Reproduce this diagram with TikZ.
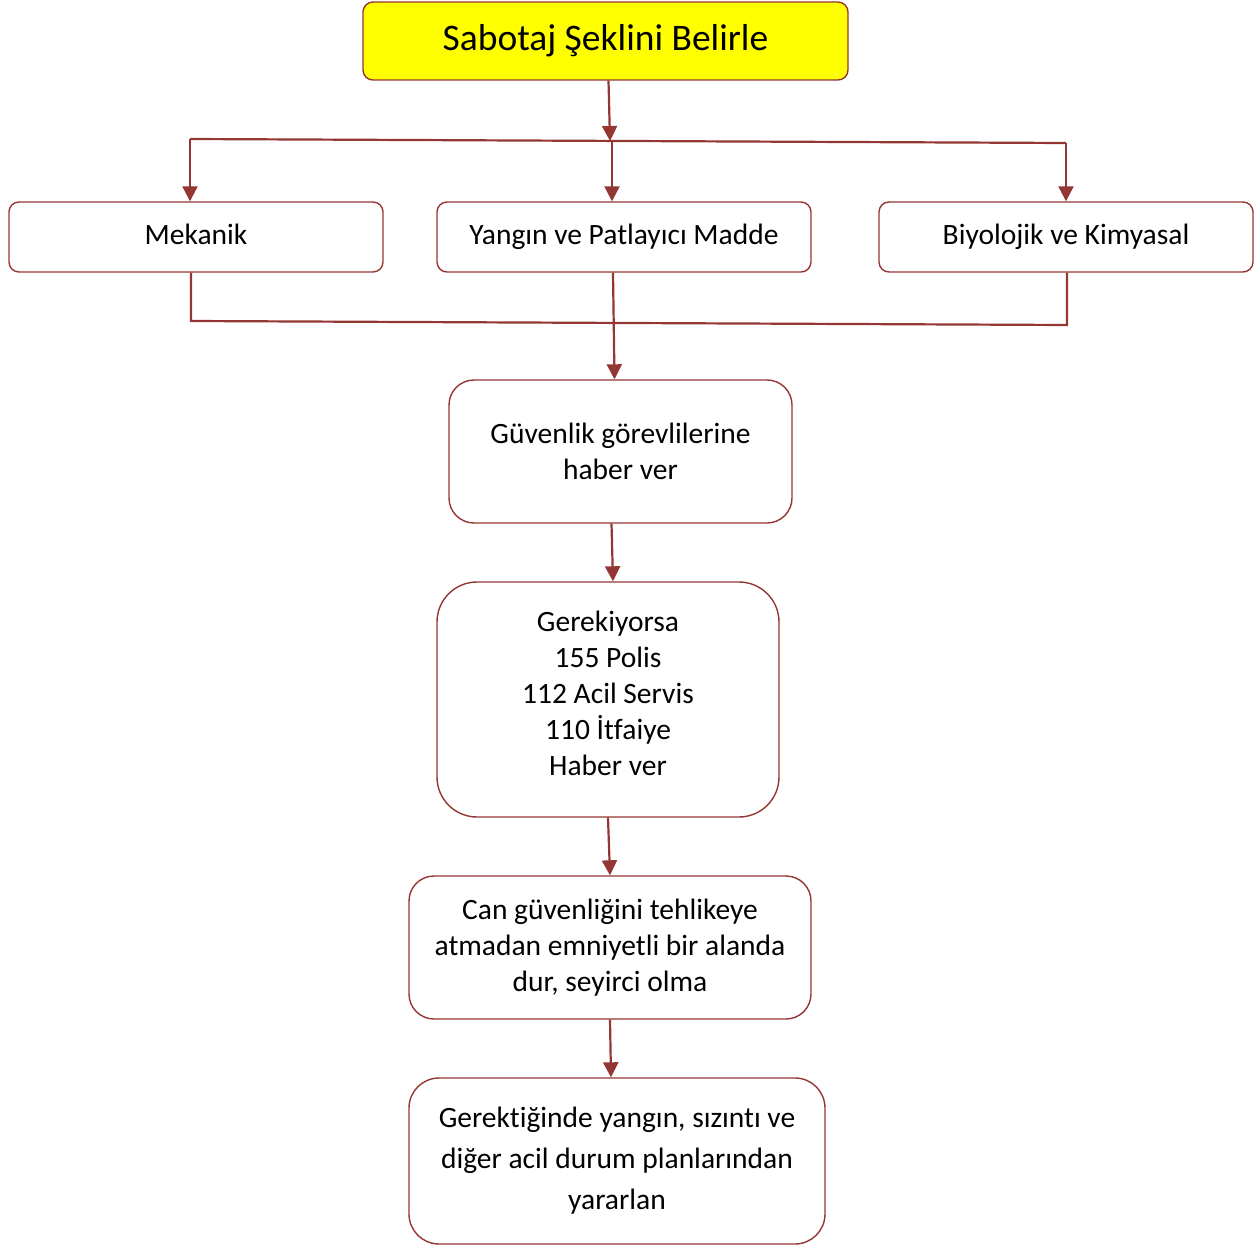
\documentclass[tikz,border=0pt]{standalone}
\usepackage{fontspec}
\setmainfont[Ligatures=NoCommon]{Carlito}
\usetikzlibrary{arrows.meta,calc}
\definecolor{lnred}{HTML}{943634}
\definecolor{ttl}{HTML}{FFFF00}
\begin{document}
\begin{tikzpicture}[x=1pt,y=-1pt,
  box/.style={draw=lnred,line width=1.4pt,fill=white,align=center,inner sep=0pt,
    font=\fontsize{29.5}{36}\selectfont},
  line/.style={draw=lnred,line width=2.2pt},
  arr/.style={line,-{Triangle[width=15pt,length=15pt]}},
]
\useasboundingbox (0,0) rectangle (1260,1246);
\node[box,fill=ttl,rounded corners=10pt,minimum width=485pt,minimum height=78pt,
  font=\fontsize{37.5}{44}\selectfont] (top) at (605.5,41) {Sabotaj Şeklini Belirle};
\node[box,rounded corners=10pt,minimum width=374pt,minimum height=70pt] (mek) at (196,237) {Mekanik\vphantom{gy}};
\node[box,rounded corners=10pt,minimum width=374pt,minimum height=70pt] (yan) at (624,237) {Yangın ve Patlayıcı Madde};
\node[box,rounded corners=10pt,minimum width=374pt,minimum height=70pt] (bio) at (1066,237) {Biyolojik ve Kimyasal};
\node[box,rounded corners=25pt,minimum width=343pt,minimum height=143pt] (gv) at (620.5,451.5) {Güvenlik görevlilerine\\haber ver};
\node[box,rounded corners=40pt,minimum width=342pt,minimum height=235pt] (ger) at (608,699.5) {Gerekiyorsa\\155 Polis\\112 Acil Servis\\110 İtfaiye\\Haber ver\rule[-13pt]{0pt}{13pt}};
\node[box,rounded corners=25pt,minimum width=402pt,minimum height=143pt] (can) at (610,947.5) {Can güvenliğini tehlikeye\\atmadan emniyetli bir alanda\\dur, seyirci olma};
\node[box,rounded corners=30pt,minimum width=416pt,minimum height=166pt,
  font=\fontsize{29.5}{41}\selectfont] (last) at (617,1161) {Gerektiğinde yangın, sızıntı ve\\diğer acil durum planlarından\\yararlan};
% top split
\coordinate (hl) at (190,139);
\coordinate (hr) at (1066,143);
\coordinate (hm) at (610,141);
\coordinate (hc) at (612,141);
\draw[line] (hl) -- (hr);
\draw[arr] ([xshift=3pt]top.south) -- (hm);
\draw[arr] (hl) -- (hl |- mek.north);
\draw[arr] (hc) -- (hc |- yan.north);
\draw[arr] (hr) -- (hr |- bio.north);
% bottom join
\coordinate (bl) at (191,321);
\coordinate (br) at (1067,325);
\draw[line] (mek.south -| bl) -- (bl) -- (br) -- (bio.south -| br);
\draw[arr] ([xshift=-11pt]yan.south) -- ([xshift=-6pt]gv.north);
\draw[arr] ([xshift=-9pt]gv.south) -- ([xshift=5pt]ger.north);
\draw[arr] (ger.south) -- (can.north);
\draw[arr] (can.south) -- ([xshift=-6pt]last.north);
\end{tikzpicture}
\end{document}
